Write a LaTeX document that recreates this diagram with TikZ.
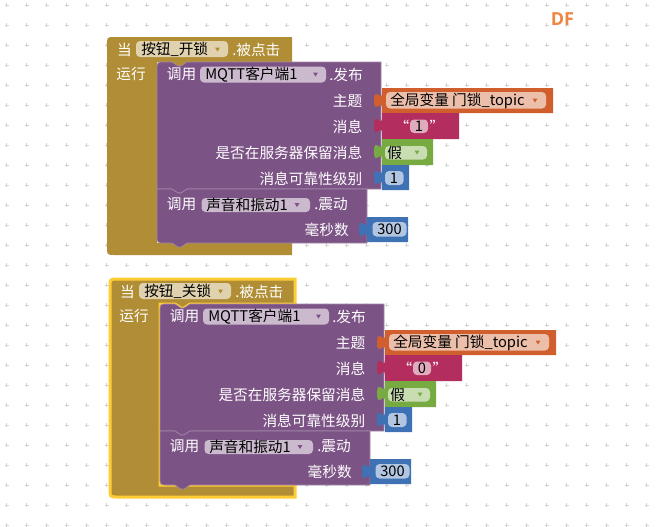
\documentclass[tikz,border=0pt]{standalone}
\usepackage{fontspec}
\setmainfont{Noto Sans CJK SC}
\newfontfamily\logofont{Open Sans}

\definecolor{ctrlgold}{HTML}{B18E35}
\definecolor{comppurple}{HTML}{7C5385}
\definecolor{varorange}{HTML}{D05F2D}
\definecolor{textred}{HTML}{B32D5E}
\definecolor{logicgreen}{HTML}{77AB41}
\definecolor{mathblue}{HTML}{3F71B5}
\definecolor{selyellow}{HTML}{FFCC33}
\definecolor{gridgray}{HTML}{D4D4D4}
\definecolor{logoorange}{HTML}{EE8541}

% value block with its input tab: x, top, width, height, colour
\newcommand{\valblock}[5]{%
  \fill[#5] (#1,#2) -- (#1,#2+5) .. controls (#1,#2+15) and (#1-8,#2-3) .. (#1-8,#2+12.5) .. controls (#1-8,#2+28) and (#1,#2+10) .. (#1,#2+20) -- (#1,#2+#4) -- (#1+#3,#2+#4) -- (#1+#3,#2) -- cycle;}

\begin{document}
\begin{tikzpicture}[x=0.75pt,y=0.75pt,yscale=-1,
  every node/.style={inner sep=0pt, font=\fontsize{11pt}{13pt}\selectfont},
  lbl/.style={text=white},
  goldblk/.style={fill=ctrlgold, line width=2.25pt},
  compblk/.style={fill=comppurple, draw=white!30!comppurple, line width=0.5pt},
  fld/.style={rounded corners=3pt}]
\useasboundingbox (0,0) rectangle (660,526);
\fill[white] (0,0) rectangle (660,526);

%Grid of the workspace
\foreach \gx in {0,...,32}
  \foreach \gy in {0,...,26}
    \draw[gridgray, line width=0.75pt] (4.7+20*\gx,5+20*\gy) -- ++(4,0) (6.7+20*\gx,3+20*\gy) -- ++(0,4);

%Two click event blocks
\foreach \i/\dx/\dy/\btn/\msg/\edge in {a/0/0/开锁/1/none, b/3/242/关锁/0/selyellow}{
\begin{scope}[shift={(\dx,\dy)}]
%Shape: event block
\draw[goldblk, draw=\edge] (107,45) .. controls (107,37) .. (115,37) -- (292,37) -- (292,62) -- (187,62) -- (181,66) -- (178,66) -- (172,62) -- (157,62) -- (157,243) -- (292,243) -- (292,255) -- (115,255) .. controls (107,255) .. (107,247) -- cycle;
%Shape: MQTT call block
\draw[compblk] (157,70) .. controls (157,62) .. (165,62) -- (172,62) -- (178,66) -- (181,66) -- (187,62) -- (381,62) -- (381,189) -- (187,189) -- (181,193) -- (178,193) -- (172,189) -- (157,189) -- cycle;
%Shape: vibrate call block
\draw[compblk] (157,189) -- (172,189) -- (178,193) -- (181,193) -- (187,189) -- (367,189) -- (367,243) -- (187,243) -- (181,247) -- (178,247) -- (172,243) -- (165,243) .. controls (157,243) .. (157,235) -- cycle;

% Header
\node[lbl] (when-\i) at (124.5,49.5) {当};
\fill[white!60!ctrlgold, fld] (136,41) rectangle (228,57);
\node[anchor=west] (btn-\i) at (141,49.5) {按钮\_\btn};
\fill[ctrlgold] (215,47.5) -- (220,47.5) -- (217.5,51.5) -- cycle;
\node[lbl, anchor=west] (click-\i) at (232,49.5) {.被点击};
\node[lbl] (do-\i) at (131,73.5) {运行};

% MQTT publish
\node[lbl] (call-\i) at (181.5,74.5) {调用};
\fill[white!60!comppurple, fld] (200,66.5) rectangle (326,82.5);
\node[anchor=west] (client-\i) at (205,74.5) {MQTT客户端1};
\fill[comppurple] (313,72.5) -- (318,72.5) -- (315.5,76.5) -- cycle;
\node[lbl, anchor=west] (pub-\i) at (329,74.5) {.发布};
\node[lbl, anchor=east] (topic-\i) at (362.5,100.5) {主题};
\node[lbl, anchor=east] (msg-\i) at (362.5,126.5) {消息};
\node[lbl, anchor=east] (retain-\i) at (362.5,152.5) {是否在服务器保留消息};
\node[lbl, anchor=east] (qos-\i) at (362.5,178.5) {消息可靠性级别};

% Inputs of publish
\valblock{382}{88}{171}{25}{varorange}
\fill[white!60!varorange, fld] (386,92) rectangle (546,108.5);
\node[anchor=west] (var-\i) at (390,100.5) {全局变量 门锁\_topic};
\fill[varorange] (532.5,98.5) -- (537.5,98.5) -- (535,102.5) -- cycle;
\valblock{382}{113}{77}{26}{textred}
\node[lbl] (lq-\i) at (402,126.5) {“};
\fill[white!60!textred, fld] (410,119.5) rectangle (428,133);
\node (txt-\i) at (419,126.5) {\msg};
\node[lbl] (rq-\i) at (437,126.5) {”};
\valblock{382}{139}{51}{26}{logicgreen}
\fill[white!60!logicgreen, fld] (385,146) rectangle (427,159.5);
\node[anchor=west] (bool-\i) at (387,152.5) {假};
\fill[logicgreen] (414.5,150.5) -- (419.5,150.5) -- (417,154.5) -- cycle;
\valblock{382}{165}{27}{25}{mathblue}
\fill[white!60!mathblue, fld] (385,171) rectangle (403.5,185);
\node (qosval-\i) at (394,178) {1};

% Vibrate
\node[lbl] (callv-\i) at (181.5,204.5) {调用};
\fill[white!60!comppurple, fld] (201.5,198) rectangle (310,212);
\node[anchor=west] (sound-\i) at (206,205) {声音和振动1};
\fill[comppurple] (294.5,203) -- (299.5,203) -- (297,207) -- cycle;
\node[lbl, anchor=west] (shake-\i) at (314,204.5) {.震动};
\node[lbl, anchor=east] (ms-\i) at (349,229.5) {毫秒数};
\valblock{367}{217}{41}{25}{mathblue}
\fill[white!60!mathblue, fld] (372.5,222) rectangle (406.5,236.5);
\node (msval-\i) at (389.5,229.5) {300};
\end{scope}
}

% Text Node
\node[text=logoorange, font=\logofont\bfseries\fontsize{13.5pt}{15pt}\selectfont] (logo) at (562.5,19) {DF};
\end{tikzpicture}
\end{document}
